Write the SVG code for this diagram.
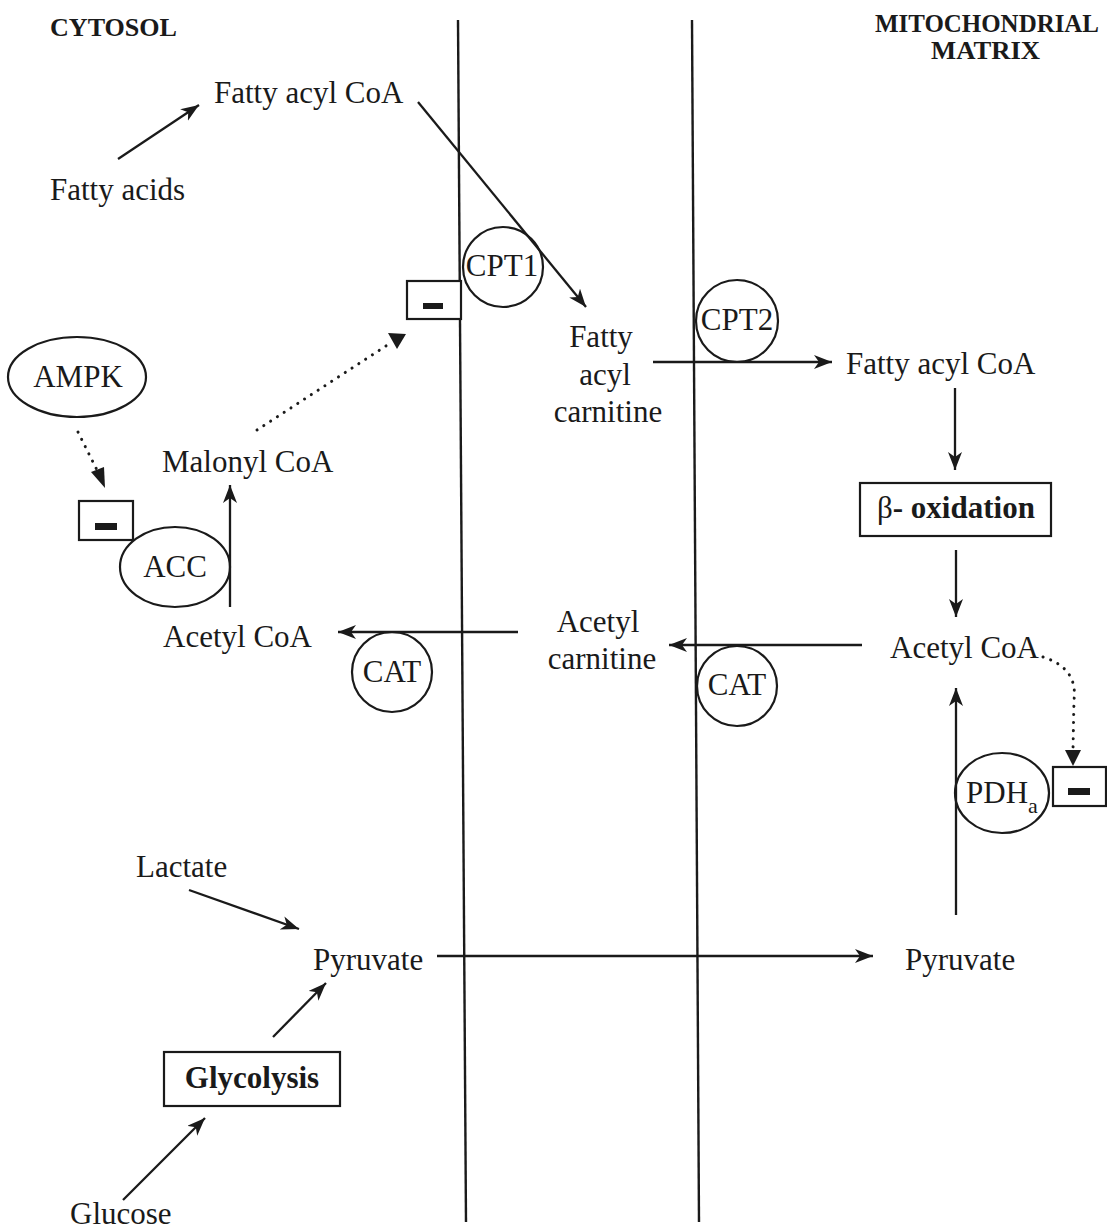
<svg xmlns="http://www.w3.org/2000/svg" width="1107" height="1231" viewBox="0 0 1107 1231">
<style>
text{font-family:"Liberation Serif","Times New Roman",serif;font-size:31px;fill:#1a1a1a}
.hdr{font-weight:bold;font-size:26px}
.b{font-weight:bold}
.ln{stroke:#1a1a1a;stroke-width:2.3;fill:none}
.mem{stroke:#1a1a1a;stroke-width:2.4;fill:none}
.dot{stroke:#1a1a1a;stroke-width:3;fill:none;stroke-dasharray:0.1 8;stroke-linecap:round}
.shape{fill:#fff;stroke:#1a1a1a;stroke-width:2.2}
.enz{fill:none;stroke:#1a1a1a;stroke-width:2.2}
.bar{fill:#1a1a1a}
</style>
<defs>
<marker id="ah" markerUnits="userSpaceOnUse" markerWidth="20" markerHeight="16" refX="18" refY="7" orient="auto">
<path d="M0,0 L18,7 L0,14 L5,7 z" fill="#1a1a1a"/>
</marker>
</defs>
<rect width="1107" height="1231" fill="#fff"/>
<g id="membranes">
<line class="mem" x1="458" y1="20" x2="466" y2="1222"/>
<line class="mem" x1="692" y1="20" x2="699" y2="1222"/>
</g>
<g id="labels">
<text class="hdr" x="50" y="36" textLength="127" lengthAdjust="spacingAndGlyphs">CYTOSOL</text>
<text class="hdr" x="875" y="32" textLength="224" lengthAdjust="spacingAndGlyphs">MITOCHONDRIAL</text>
<text class="hdr" x="931" y="59" textLength="109" lengthAdjust="spacingAndGlyphs">MATRIX</text>
</g>
<g id="cpt1"><circle class="enz" cx="503" cy="267" r="40"/><text x="502" y="276" text-anchor="middle" font-size="29">CPT1</text></g>
<g id="cpt1-inhib"><rect class="shape" x="407" y="281" width="54" height="38"/><rect class="bar" x="423" y="303" width="20" height="6"/></g>
<g id="cpt2"><circle class="enz" cx="737" cy="321" r="41"/><text x="737" y="330" text-anchor="middle" font-size="29">CPT2</text></g>
<g id="cat-right"><circle class="enz" cx="737" cy="686" r="40"/><text x="737" y="695" text-anchor="middle" font-size="29">CAT</text></g>
<g id="cat-left"><circle class="enz" cx="392" cy="672" r="40"/><text x="392" y="682" text-anchor="middle" font-size="29">CAT</text></g>
<g id="acc"><ellipse class="enz" cx="175" cy="567" rx="55" ry="40"/><text x="175" y="577" text-anchor="middle">ACC</text></g>
<g id="acc-inhib"><rect class="shape" x="79" y="501" width="54" height="39"/><rect class="bar" x="95" y="523" width="22" height="7"/></g>
<g id="ampk"><ellipse class="enz" cx="77" cy="377" rx="69" ry="40"/><text x="78" y="387" text-anchor="middle">AMPK</text></g>
<g id="pdh"><ellipse class="enz" cx="1002" cy="793" rx="47" ry="40"/><text x="966" y="803">PDH<tspan font-size="22" dy="10">a</tspan></text></g>
<g id="pdh-inhib"><rect class="shape" x="1053" y="767" width="53" height="39"/><rect class="bar" x="1068" y="788" width="22" height="7"/></g>
<g id="beta-ox"><rect class="shape" x="860" y="483" width="191" height="53"/><text x="877" y="518">β<tspan class="b">- oxidation</tspan></text></g>
<g id="glycolysis"><rect class="shape" x="164" y="1052" width="176" height="54"/><text class="b" x="252" y="1088" text-anchor="middle">Glycolysis</text></g>
<g id="fatty-acids"><text x="50" y="200">Fatty acids</text></g>
<g id="fatty-acyl-coa-c"><text x="214" y="103">Fatty acyl CoA</text></g>
<g id="fatty-acyl-carnitine"><text x="601" y="347" text-anchor="middle">Fatty</text><text x="605" y="385" text-anchor="middle">acyl</text><text x="608" y="422" text-anchor="middle">carnitine</text></g>
<g id="fatty-acyl-coa-m"><text x="846" y="374">Fatty acyl CoA</text></g>
<g id="malonyl-coa"><text x="162" y="472">Malonyl CoA</text></g>
<g id="acetyl-coa-c"><text x="163" y="647">Acetyl CoA</text></g>
<g id="acetyl-carnitine"><text x="598" y="632" text-anchor="middle">Acetyl</text><text x="602" y="669" text-anchor="middle">carnitine</text></g>
<g id="acetyl-coa-m"><text x="890" y="658">Acetyl CoA</text></g>
<g id="lactate"><text x="136" y="877">Lactate</text></g>
<g id="pyruvate-c"><text x="313" y="970">Pyruvate</text></g>
<g id="pyruvate-m"><text x="905" y="970">Pyruvate</text></g>
<g id="glucose"><text x="70" y="1224">Glucose</text></g>
<g id="connectors">
<line class="ln" x1="118" y1="159" x2="199" y2="105" marker-end="url(#ah)"/>
<line class="ln" x1="418" y1="102" x2="586" y2="307" marker-end="url(#ah)"/>
<line class="ln" x1="653" y1="362" x2="832" y2="362" marker-end="url(#ah)"/>
<line class="ln" x1="955" y1="388" x2="955" y2="470" marker-end="url(#ah)"/>
<line class="ln" x1="956" y1="550" x2="956" y2="617" marker-end="url(#ah)"/>
<line class="ln" x1="862" y1="645" x2="669" y2="645" marker-end="url(#ah)"/>
<line class="ln" x1="518" y1="632" x2="338" y2="632" marker-end="url(#ah)"/>
<line class="ln" x1="230" y1="607" x2="230" y2="485" marker-end="url(#ah)"/>
<line class="ln" x1="956" y1="915" x2="956" y2="688" marker-end="url(#ah)"/>
<line class="ln" x1="189" y1="890" x2="299" y2="929" marker-end="url(#ah)"/>
<line class="ln" x1="437" y1="956" x2="873" y2="956" marker-end="url(#ah)"/>
<line class="ln" x1="273" y1="1037" x2="326" y2="983" marker-end="url(#ah)"/>
<line class="ln" x1="123" y1="1200" x2="205" y2="1118" marker-end="url(#ah)"/>
<path class="dot" d="M78,432 L100,476"/>
<path d="M91,472 L105,488 L104,467 z" fill="#1a1a1a"/>
<path class="dot" d="M257,430 L392,342"/>
<path d="M388,333 L406,334 L397,349 z" fill="#1a1a1a"/>
<path class="dot" d="M1043,657 Q1078,668 1074,700 L1073,750"/>
<path d="M1065,750 L1081,750 L1073,766 z" fill="#1a1a1a"/>
</g>
</svg>
